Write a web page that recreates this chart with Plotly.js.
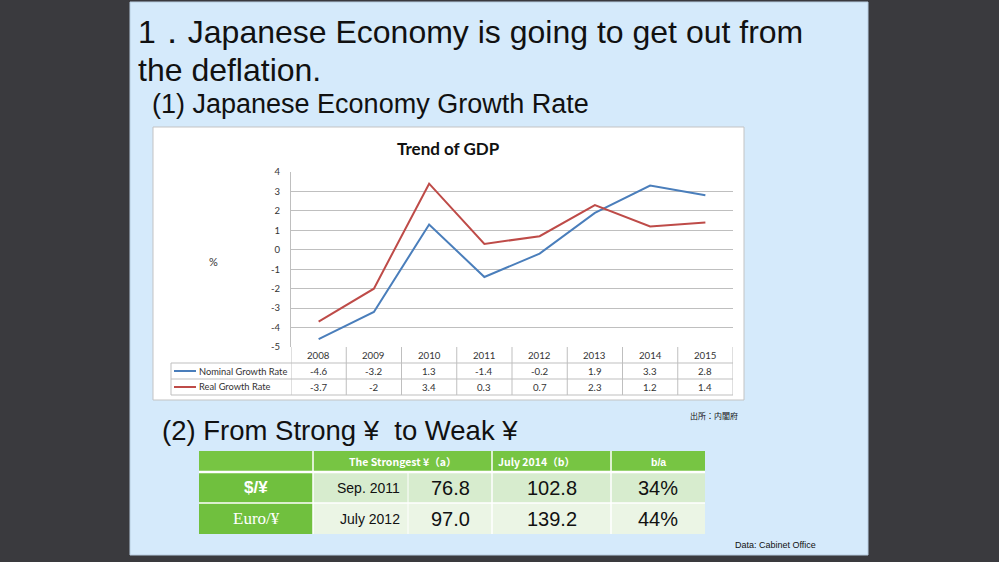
<!DOCTYPE html>
<html>
<head>
<meta charset="utf-8">
<script src="https://cdn.plot.ly/plotly-3.0.1.min.js"></script>
<style>
  html, body { margin: 0; padding: 0; background: #3a3a3e; }
  #chart { width: 999px; height: 562px; }
</style>
</head>
<body>
<div id="chart"></div>
<script>
// GDP growth data
const years = ['2008', '2009', '2010', '2011', '2012', '2013', '2014', '2015'];
const nominalGrowth = [-4.6, -3.2, 1.3, -1.4, -0.2, 1.9, 3.3, 2.8];
const realGrowth = [-3.7, -2, 3.4, 0.3, 0.7, 2.3, 1.2, 1.4];
const seriesNames = ['Nominal Growth Rate', 'Real Growth Rate'];
const seriesColors = ['#4a7ebb', '#be4b48'];
const yTickVals = [-5, -4, -3, -2, -1, 0, 1, 2, 3, 4];
const yTickText = ['-5', '-4', '-3', '-2', '-1', '0', '1', '2', '3', '4'];

// exchange rate table
const fxHeader = ['The Strongest ¥（a）', 'July 2014（b）', 'b/a'];
const fxPairs = ['$/¥', 'Euro/¥'];
const strongestDate = ['Sep. 2011', 'July 2012'];
const strongestRate = ['76.8', '97.0'];
const july2014Rate = ['102.8', '139.2'];
const ratio = ['34%', '44%'];

const W = 999, H = 562;
const px = x => x / W;
const py = y => 1 - y / H;

const shapes = [];
const annotations = [];

function rect(x0, y0, x1, y1, fill, line, lw) {
  shapes.push({
    type: 'rect', xref: 'paper', yref: 'paper', layer: 'below',
    x0: px(x0), x1: px(x1), y0: py(y0), y1: py(y1),
    fillcolor: fill, line: { color: line || fill, width: lw === undefined ? 0 : lw }
  });
}
function hline(x0, x1, y, color, w) {
  shapes.push({
    type: 'line', xref: 'paper', yref: 'paper', layer: 'above',
    x0: px(x0), x1: px(x1), y0: py(y), y1: py(y), line: { color: color, width: w }
  });
}
function vline(x, y0, y1, color, w) {
  shapes.push({
    type: 'line', xref: 'paper', yref: 'paper', layer: 'above',
    x0: px(x), x1: px(x), y0: py(y0), y1: py(y1), line: { color: color, width: w }
  });
}
function label(text, x, y, opts) {
  opts = opts || {};
  annotations.push({
    text: text, xref: 'paper', yref: 'paper', x: px(x), y: py(y),
    xanchor: opts.anchor || 'left', yanchor: 'middle', showarrow: false,
    font: { family: opts.family || 'Liberation Sans, sans-serif', size: opts.size || 12,
            color: opts.color || '#111', weight: opts.weight || 'normal' }
  });
}

// slide panel and chart box
rect(130, 2, 868, 555, '#d5eafb', '#b8cde0', 1);
rect(153, 127, 744, 400, '#ffffff', '#c3c3c3', 1);

// headings
label('1．Japanese Economy is going to get out from', 136, 32, { size: 32 });
label('the deflation.', 136, 70, { size: 32 });
label('(1) Japanese Economy Growth Rate', 150, 104, { size: 27 });
label('(2) From Strong ¥  to Weak ¥', 160, 430, { size: 27.5 });
label('出所：内閣府', 714, 416, { size: 8, anchor: 'center', family: 'Noto Sans CJK JP' });
label('Data: Cabinet Office', 775, 545, { size: 9, anchor: 'center' });

// chart inner texts
label('Trend of GDP', 448, 148, { size: 17, weight: 'bold', anchor: 'center', family: 'Lato, sans-serif' });
label('%', 213, 262, { size: 11, anchor: 'center', family: 'Lato, sans-serif', color: '#333' });

// data table under the chart
const gridGray = '#bfbfbf';
const rowYear = 355, rowNom = 371, rowReal = 387;
hline(171, 733, 363, gridGray, 1);
hline(171, 733, 379, gridGray, 1);
hline(171, 733, 395, gridGray, 1);
vline(171, 363, 395, gridGray, 1);
for (let k = 0; k <= years.length; k++) {
  shapes.push({
    type: 'line', xref: 'x', yref: 'paper', layer: 'above',
    x0: k - 0.5, x1: k - 0.5, y0: py(347), y1: py(395), line: { color: gridGray, width: 1 }
  });
}
[rowNom, rowReal].forEach((y, i) => {
  hline(174, 196, y, seriesColors[i], 2);
  label(seriesNames[i], 197, y, { size: 9.3, family: 'Lato, sans-serif', color: '#333' });
});
function tableCell(text, idx, y) {
  annotations.push({
    text: text, xref: 'x', yref: 'paper', x: idx, y: py(y),
    xanchor: 'center', yanchor: 'middle', showarrow: false,
    font: { family: 'Lato, sans-serif', size: 9.7, color: '#333' }
  });
}
years.forEach((yr, i) => {
  tableCell(yr, i, rowYear);
  tableCell(String(nominalGrowth[i]), i, rowNom);
  tableCell(String(realGrowth[i]), i, rowReal);
});

// exchange rate table
const green = '#77c543';
const cols = [199, 313, 408, 492, 611, 705];
const rows = [451, 472, 503, 534];
rect(cols[0], rows[0], cols[5], rows[1], green);
rect(cols[0], rows[1], cols[1], rows[3], '#70c03e');
rect(cols[1], rows[1], cols[5], rows[2], '#d7ecce');
rect(cols[1], rows[2], cols[5], rows[3], '#ebf5e5');
hline(cols[0], cols[5], rows[1], '#ffffff', 2.5);
hline(cols[0], cols[5], rows[2], '#ffffff', 1.5);
vline(cols[1], rows[0], rows[3], '#ffffff', 1.5);
vline(cols[2], rows[1], rows[3], '#ffffff', 1);
vline(cols[3], rows[0], rows[3], '#ffffff', 1.5);
vline(cols[4], rows[0], rows[3], '#ffffff', 1.5);

const hy = (rows[0] + rows[1]) / 2;
label(fxHeader[0], (cols[1] + cols[3]) / 2, hy, { size: 10.5, weight: 'bold', anchor: 'center', color: '#ffffff', family: 'Noto Sans CJK JP' });
label(fxHeader[1], cols[3] + 4, hy, { size: 10.5, weight: 'bold', color: '#ffffff', family: 'Noto Sans CJK JP' });
label(fxHeader[2], (cols[4] + cols[5]) / 2, hy, { size: 10.5, weight: 'bold', anchor: 'center', color: '#ffffff' });

fxPairs.forEach((pair, i) => {
  const y = (rows[i + 1] + rows[i + 2]) / 2;
  label(pair, (cols[0] + cols[1]) / 2, y, i === 0
    ? { size: 17, weight: 'bold', anchor: 'center', color: '#ffffff' }
    : { size: 17, anchor: 'center', color: '#ffffff', family: 'Liberation Serif, serif' });
  label(strongestDate[i], cols[2] - 6, y, { size: 14, anchor: 'right' });
  label(strongestRate[i], (cols[2] + cols[3]) / 2, y, { size: 20, anchor: 'center' });
  label(july2014Rate[i], (cols[3] + cols[4]) / 2, y, { size: 20, anchor: 'center' });
  label(ratio[i], (cols[4] + cols[5]) / 2, y, { size: 20, anchor: 'center' });
});

const traces = [nominalGrowth, realGrowth].map((vals, i) => ({
  x: years, y: vals, type: 'scatter', mode: 'lines', name: seriesNames[i],
  line: { color: seriesColors[i], width: 2 }, hoverinfo: 'x+y'
}));

const layout = {
  width: W, height: H,
  margin: { l: 0, r: 0, t: 0, b: 0 },
  paper_bgcolor: '#3a3a3e',
  plot_bgcolor: 'rgba(0,0,0,0)',
  showlegend: false,
  xaxis: {
    type: 'category', domain: [px(291), px(733)],
    range: [-0.5, years.length - 0.5],
    showticklabels: false, showgrid: false, zeroline: false, showline: false, ticks: ''
  },
  yaxis: {
    domain: [py(347), py(172)], range: [-5, 4],
    tickvals: yTickVals, ticktext: yTickText,
    showgrid: true, gridcolor: gridGray, gridwidth: 1, zeroline: false,
    showline: true, linecolor: gridGray, linewidth: 1, ticks: '',
    ticklabelstandoff: 8,
    tickfont: { family: 'Lato, sans-serif', size: 9.5, color: '#333' }
  },
  shapes: shapes,
  annotations: annotations
};

Plotly.newPlot('chart', traces, layout, { displayModeBar: false, staticPlot: true });
</script>
</body>
</html>
